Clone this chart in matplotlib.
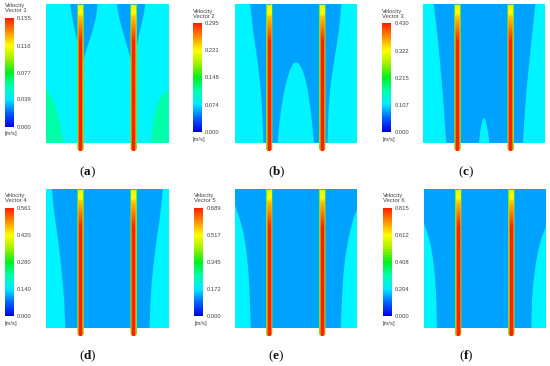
import numpy as np
import matplotlib
matplotlib.use('Agg')
import matplotlib.pyplot as plt
from matplotlib.cm import ScalarMappable
from matplotlib.colors import LinearSegmentedColormap, Normalize
from matplotlib.patches import FancyBboxPatch

plt.rcParams['font.family'] = ['Liberation Sans', 'DejaVu Sans']
plt.rcParams['mathtext.fontset'] = 'custom'
plt.rcParams['mathtext.rm'] = 'Liberation Serif'
plt.rcParams['mathtext.bf'] = 'Liberation Serif:bold'

# data: legend scales
vector_names = ['Vector 1', 'Vector 2', 'Vector 3', 'Vector 4', 'Vector 5', 'Vector 6']
captions = ['a', 'b', 'c', 'd', 'e', 'f']
scale_ticks = [
    [0.000, 0.039, 0.077, 0.116, 0.155],
    [0.000, 0.074, 0.148, 0.221, 0.295],
    [0.000, 0.107, 0.215, 0.322, 0.430],
    [0.000, 0.140, 0.280, 0.420, 0.561],
    [0.000, 0.172, 0.345, 0.517, 0.689],
    [0.000, 0.204, 0.408, 0.612, 0.815],
]

# data: contour outlines, as fractions of the domain width / height
a_wedge1_x = [.198, .212, .239, .274, .293, .329, .375, .410, .421]
a_wedge1_y = [1, .909, .789, .670, .560, .670, .789, .909, 1]
a_wedge2_x = [.579, .600, .647, .693, .713, .755, .796, .810]
a_wedge2_y = [1, .885, .742, .598, .560, .766, .909, 1]
a_corner1_x = [0, .0625, .103, .144]
a_corner1_y = [.388, .311, .191, 0]
a_corner2_x = [1, .932, .883, .856]
a_corner2_y = [.383, .335, .215, 0]

b_left_x = [.127, .154, .195, .222, .236]
b_left_y = [1, .789, .550, .311, 0]
b_right_x = [.759, .770, .805, .851, .873]
b_right_y = [0, .311, .550, .789, 1]
b_dome_x = [.352, .371, .412, .461, .501, .547, .588, .623, .648]
b_dome_y = [0, .191, .407, .550, .590, .550, .431, .239, 0]

c_left_x = [.087, .117, .155, .190]
c_left_y = [1, .789, .431, 0]
c_right_x = [.815, .842, .875, .897, .918]
c_right_y = [0, .359, .646, .837, 1]
c_dome_x = [.457, .470, .497, .524, .543]
c_dome_y = [0, .110, .200, .120, 0]

d_left_x = [.049, .063, .103, .144, .158]
d_left_y = [1, .851, .612, .276, 0]
d_right_x = [.845, .856, .891, .932, .954]
d_right_y = [0, .276, .564, .803, 1]

e_left_x = [0, .046, .087, .119, .133]
e_left_y = [.894, .779, .635, .372, 0]
e_right_x = [.867, .886, .927, .967, 1]
e_right_y = [0, .396, .635, .779, .851]

f_left_x = [0, .052, .087, .106, .109]
f_left_y = [.760, .635, .444, .204, 0]
f_right_x = [.880, .886, .908, .948, 1]
f_right_y = [0, .228, .420, .612, .731]

# data: jet velocity, as a fraction of the scale maximum
rod_across = [0.0, .45, .60, .72, .88, 1.0]
rod_across_value = [1.0, 1.0, .90, .75, .55, .40]
rod_height = [-.06, .72, .80, .90, .93, .98, 1.0]
rod_height_cap = [1.0, 1.0, .92, .82, .75, .72, .60]
rod_centers = [.282, .716]

CYAN = '#00f4ff'
BLUE = '#00a2ff'
SEA = '#00ffa8'
cmap = LinearSegmentedColormap.from_list(
    'ansys', ['#0000e0', '#0060ff', '#00e8ff', '#00ffb0', '#00f020', '#a0f000',
              '#ffff00', '#ff9000', '#ff2000'])

W, H = 550, 366
fig = plt.figure(figsize=(W / 100, H / 100), dpi=100)


def px_axes(x0, y0, x1, y1):
    """Axes from pixel box, y counted from the top of the image."""
    return fig.add_axes([x0 / W, 1 - y1 / H, (x1 - x0) / W, (y1 - y0) / H])


def smooth(xs, ys, rounds=3):
    """Round off an outline by corner cutting, keeping its two ends."""
    p = np.column_stack([xs, ys])
    for _ in range(rounds):
        q = .75 * p[:-1] + .25 * p[1:]
        r = .25 * p[:-1] + .75 * p[1:]
        mid = np.empty((2 * len(q), 2))
        mid[0::2] = q
        mid[1::2] = r
        p = np.vstack([p[:1], mid, p[-1:]])
    return p[:, 0].tolist(), p[:, 1].tolist()


def band(lx, ly, rx, ry, head_x=(), head_y=(), tail_x=(), tail_y=()):
    """Closed outline from a left and a right curve, with optional corner points."""
    lx, ly = smooth(lx, ly)
    rx, ry = smooth(rx, ry)
    return list(head_x) + lx + rx + list(tail_x), list(head_y) + ly + ry + list(tail_y)


def draw_rod(ax, xc):
    half = .027
    across = np.linspace(-1, 1, 61)
    along = np.linspace(-.06, 1, 300)
    profile = np.interp(np.abs(across), rod_across, rod_across_value)
    cap = np.interp(along, rod_height, rod_height_cap)
    field = np.minimum(profile[None, :], cap[:, None])
    im = ax.imshow(field, cmap=cmap, vmin=0, vmax=1, origin='lower', aspect='auto',
                   extent=[xc - half, xc + half, -.058, 1], interpolation='bilinear', zorder=3)
    clip = FancyBboxPatch((xc - half, -.058), 2 * half, 1.2,
                          boxstyle='round,pad=0,rounding_size=.027',
                          mutation_aspect=.85, transform=ax.transData, fill=False, lw=0)
    ax.add_patch(clip)
    im.set_clip_path(clip)
    ax.fill_between([xc - half * .7, xc + half * .7], .992, 1.0, color='#7f9f80', lw=0, zorder=4)


def draw_panel(ax, regions):
    ax.fill_between([0, 1], 0, 1, color=CYAN, lw=0, zorder=0)
    for color, (xs, ys) in regions:
        ax.fill(xs, ys, color=color, lw=0, zorder=1)
    for xc in rod_centers:
        draw_rod(ax, xc)
    ax.set_xlim(0, 1)
    ax.set_ylim(-.06, 1)
    ax.axis('off')


panel_regions = [
    [(SEA, band(a_corner1_x, a_corner1_y, [], [], [0], [0])),
     (SEA, band(a_corner2_x, a_corner2_y, [], [], [1], [0])),
     (BLUE, smooth(a_wedge1_x, a_wedge1_y, 2)),
     (BLUE, smooth(a_wedge2_x, a_wedge2_y, 2))],
    [(BLUE, band(b_left_x, b_left_y, b_right_x, b_right_y)),
     (CYAN, smooth(b_dome_x, b_dome_y))],
    [(BLUE, band(c_left_x, c_left_y, c_right_x, c_right_y)),
     (CYAN, smooth(c_dome_x, c_dome_y))],
    [(BLUE, band(d_left_x, d_left_y, d_right_x, d_right_y))],
    [(BLUE, band(e_left_x, e_left_y, e_right_x, e_right_y, [0], [1], [1], [1]))],
    [(BLUE, band(f_left_x, f_left_y, f_right_x, f_right_y, [0], [1], [1], [1]))],
]

# layout in image pixels
domain_left = [46, 234.5, 423, 46, 234.5, 423.5]
domain_top = [4, 4, 4, 189, 189, 189]
bar_left = [5, 193, 382.3, 5, 194.3, 383]
bar_top = [18.3, 23.3, 23.3, 208, 208, 208]
caption_x = [87, 277, 466, 87.5, 276, 466]
caption_y = [172, 172, 172, 356, 356, 356]

for i in range(6):
    x0, y0 = domain_left[i], domain_top[i]
    ax = px_axes(x0, y0, x0 + 122.5, y0 + 147.3)
    draw_panel(ax, panel_regions[i])

    bx, by = bar_left[i], bar_top[i]
    cax = px_axes(bx, by, bx + 8.7, by + 108.4)
    ticks = scale_ticks[i]
    cb = fig.colorbar(ScalarMappable(Normalize(0, ticks[-1]), cmap), cax=cax)
    cb.outline.set_visible(False)
    cb.set_ticks(ticks, labels=['%.3f' % t for t in ticks])
    cax.tick_params(length=0, pad=2.4, labelsize=4.2, labelcolor='#444444')

    for text, dy in [('Velocity', -12.3), (vector_names[i], -7.3)]:
        fig.text(bx / W, 1 - (by + dy) / H, text, fontsize=4.2, color='#444444',
                 ha='left', va='center')
    fig.text(bx / W, 1 - (by + 115.7) / H, '[m/s]', fontsize=4.2, color='#444444',
             ha='left', va='center')
    fig.text(caption_x[i] / W, 1 - caption_y[i] / H, '($\\mathbf{%s}$)' % captions[i],
             fontsize=9.5, color='#111111', family='Liberation Serif', ha='center', va='center')

fig.savefig('out.png', dpi=100)
